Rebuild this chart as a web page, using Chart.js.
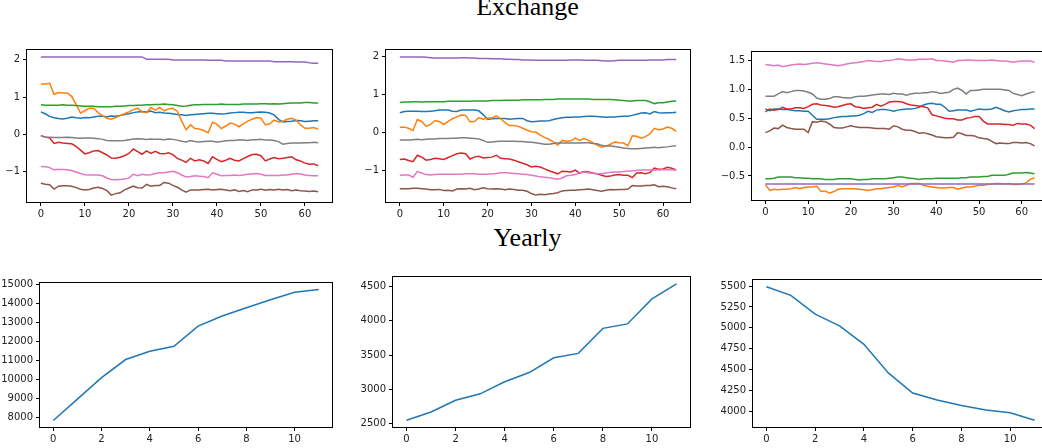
<!DOCTYPE html>
<html>
<head>
<meta charset="utf-8">
<script src="https://cdn.jsdelivr.net/npm/chart.js@4.4.0/dist/chart.umd.min.js"></script>
<style>
  body { margin: 0; width: 1042px; height: 448px; overflow: hidden; background: #fff; position: relative; }
  .title { position: absolute; left: 0; width: 1055px; text-align: center; font-family: "Liberation Serif", serif; font-size: 26px; line-height: 26px; color: #000; }
  canvas { position: absolute; }
</style>
</head>
<body>
<div class="title" style="top:-6px">Exchange</div>
<div class="title" style="top:225px">Yearly</div>
<canvas id="ex1"></canvas>
<canvas id="ex2"></canvas>
<canvas id="ex3"></canvas>
<canvas id="yr1"></canvas>
<canvas id="yr2"></canvas>
<canvas id="yr3"></canvas>
<script>
// COLORS (matplotlib tab10, C0..C7)
const colors = ["#1f77b4", "#ff7f0e", "#2ca02c", "#d62728", "#9467bd", "#8c564b", "#e377c2", "#7f7f7f"];

// TICKS
const exXTicks = [0, 10, 20, 30, 40, 50, 60];
const yrXTicks = [0, 2, 4, 6, 8, 10];
const ex1YTicks = [-1, 0, 1, 2];
const ex1YLabels = ["\u22121", "0", "1", "2"];
const ex2YTicks = [-1, 0, 1, 2];
const ex2YLabels = ["\u22121", "0", "1", "2"];
const ex3YTicks = [-0.5, 0, 0.5, 1, 1.5];
const ex3YLabels = ["\u22120.5", "0.0", "0.5", "1.0", "1.5"];
const yr1YTicks = [8000, 9000, 10000, 11000, 12000, 13000, 14000, 15000];
const yr1YLabels = ["8000", "9000", "10000", "11000", "12000", "13000", "14000", "15000"];
const yr2YTicks = [2500, 3000, 3500, 4000, 4500];
const yr2YLabels = ["2500", "3000", "3500", "4000", "4500"];
const yr3YTicks = [4000, 4250, 4500, 4750, 5000, 5250, 5500];
const yr3YLabels = ["4000", "4250", "4500", "4750", "5000", "5250", "5500"];

// EXCHANGE - PANEL 1
const ex1Blue = [0.60,0.55,0.48,0.44,0.42,0.41,0.43,0.46,0.44,0.43,
  0.45,0.44,0.46,0.48,0.48,0.47,0.49,0.48,0.50,0.53,
  0.55,0.58,0.60,0.61,0.60,0.62,0.58,0.59,0.57,0.56,
  0.55,0.53,0.52,0.50,0.52,0.53,0.54,0.55,0.56,0.56,
  0.55,0.54,0.55,0.57,0.58,0.59,0.59,0.58,0.58,0.59,
  0.60,0.59,0.57,0.52,0.40,0.33,0.34,0.35,0.37,0.36,
  0.34,0.35,0.36,0.36];
const ex1Orange = [1.35,1.35,1.37,1.07,1.12,1.11,1.11,1.02,0.80,0.57,
  0.63,0.70,0.70,0.58,0.50,0.43,0.40,0.45,0.50,0.55,
  0.60,0.66,0.70,0.60,0.58,0.72,0.65,0.72,0.63,0.68,
  0.70,0.62,0.35,0.12,0.25,0.15,0.14,0.10,0.04,0.32,
  0.27,0.15,0.22,0.30,0.27,0.20,0.28,0.35,0.40,0.45,
  0.43,0.25,0.28,0.38,0.33,0.35,0.40,0.43,0.38,0.25,
  0.16,0.16,0.18,0.13];
const ex1Green = [0.79,0.78,0.78,0.78,0.78,0.79,0.78,0.78,0.77,0.76,
  0.75,0.75,0.75,0.74,0.74,0.74,0.74,0.75,0.75,0.76,
  0.77,0.77,0.78,0.78,0.79,0.79,0.80,0.80,0.81,0.80,
  0.79,0.77,0.75,0.76,0.78,0.79,0.79,0.80,0.80,0.80,
  0.80,0.81,0.80,0.80,0.80,0.80,0.81,0.81,0.81,0.81,
  0.82,0.82,0.81,0.82,0.81,0.82,0.83,0.84,0.84,0.84,
  0.85,0.85,0.84,0.84];
const ex1Red = [-0.04,-0.08,-0.10,-0.25,-0.22,-0.24,-0.25,-0.26,-0.33,-0.43,
  -0.53,-0.50,-0.45,-0.44,-0.50,-0.56,-0.64,-0.65,-0.62,-0.58,
  -0.52,-0.40,-0.47,-0.54,-0.45,-0.52,-0.46,-0.52,-0.53,-0.50,
  -0.55,-0.65,-0.70,-0.76,-0.65,-0.72,-0.69,-0.72,-0.79,-0.61,
  -0.68,-0.74,-0.70,-0.65,-0.70,-0.72,-0.66,-0.60,-0.55,-0.54,
  -0.58,-0.72,-0.67,-0.63,-0.66,-0.65,-0.63,-0.61,-0.69,-0.72,
  -0.78,-0.81,-0.80,-0.85];
const ex1Purple = [2.08,2.08,2.08,2.08,2.08,2.08,2.08,2.08,2.08,2.08,
  2.08,2.08,2.08,2.08,2.08,2.08,2.08,2.08,2.08,2.08,
  2.08,2.08,2.08,2.08,2.02,2.02,2.02,2.02,2.02,2.02,
  2.00,2.00,2.00,2.00,2.00,2.00,2.00,2.00,1.99,1.99,
  1.99,1.99,1.97,1.97,1.97,1.97,1.97,1.97,1.97,1.97,
  1.97,1.97,1.97,1.95,1.95,1.95,1.95,1.95,1.94,1.94,
  1.94,1.92,1.91,1.91];
const ex1Brown = [-1.32,-1.35,-1.36,-1.48,-1.40,-1.39,-1.39,-1.40,-1.44,-1.48,
  -1.50,-1.49,-1.45,-1.43,-1.46,-1.52,-1.64,-1.60,-1.58,-1.50,
  -1.45,-1.40,-1.44,-1.45,-1.35,-1.40,-1.38,-1.38,-1.30,-1.32,
  -1.38,-1.43,-1.50,-1.56,-1.50,-1.50,-1.50,-1.49,-1.48,-1.50,
  -1.49,-1.48,-1.50,-1.52,-1.50,-1.54,-1.52,-1.55,-1.50,-1.50,
  -1.48,-1.51,-1.49,-1.50,-1.48,-1.50,-1.49,-1.52,-1.50,-1.52,
  -1.53,-1.54,-1.53,-1.55];
const ex1Pink = [-0.87,-0.88,-0.90,-0.96,-0.95,-0.95,-0.96,-0.98,-1.02,-1.06,
  -1.09,-1.10,-1.10,-1.10,-1.12,-1.18,-1.22,-1.23,-1.22,-1.21,
  -1.18,-1.08,-1.12,-1.08,-1.10,-1.09,-1.06,-1.04,-1.04,-1.02,
  -1.00,-1.04,-1.10,-1.15,-1.14,-1.12,-1.13,-1.14,-1.17,-1.04,
  -1.08,-1.12,-1.11,-1.11,-1.10,-1.11,-1.10,-1.08,-1.07,-1.06,
  -1.08,-1.11,-1.11,-1.11,-1.11,-1.10,-1.10,-1.08,-1.06,-1.07,
  -1.10,-1.11,-1.12,-1.12];
const ex1Gray = [-0.04,-0.08,-0.08,-0.09,-0.09,-0.09,-0.08,-0.09,-0.10,-0.11,
  -0.10,-0.10,-0.11,-0.12,-0.14,-0.17,-0.18,-0.18,-0.18,-0.17,
  -0.15,-0.13,-0.12,-0.13,-0.14,-0.13,-0.14,-0.14,-0.15,-0.13,
  -0.14,-0.16,-0.19,-0.21,-0.17,-0.20,-0.21,-0.20,-0.19,-0.19,
  -0.21,-0.20,-0.18,-0.17,-0.17,-0.15,-0.16,-0.17,-0.15,-0.15,
  -0.14,-0.16,-0.16,-0.17,-0.20,-0.27,-0.25,-0.24,-0.24,-0.24,
  -0.23,-0.23,-0.22,-0.23];

// EXCHANGE - PANEL 2
const ex2Blue = [0.51,0.54,0.55,0.55,0.55,0.54,0.54,0.55,0.56,0.58,
  0.58,0.58,0.55,0.54,0.58,0.58,0.58,0.58,0.56,0.46,
  0.33,0.35,0.36,0.36,0.36,0.34,0.35,0.36,0.36,0.30,
  0.27,0.28,0.29,0.29,0.30,0.33,0.36,0.38,0.39,0.39,
  0.40,0.40,0.41,0.42,0.42,0.41,0.40,0.39,0.40,0.40,
  0.41,0.42,0.42,0.44,0.47,0.50,0.51,0.48,0.54,0.51,
  0.50,0.51,0.51,0.52];
const ex2Orange = [0.13,0.13,0.10,0.04,0.33,0.28,0.15,0.20,0.30,0.28,
  0.20,0.28,0.35,0.40,0.45,0.44,0.27,0.28,0.38,0.34,
  0.37,0.37,0.43,0.35,0.25,0.17,0.17,0.15,0.10,0.05,
  0.01,0.00,-0.08,-0.14,-0.19,-0.26,-0.34,-0.22,-0.24,-0.23,
  -0.16,-0.22,-0.17,-0.22,-0.28,-0.34,-0.40,-0.37,-0.32,-0.26,
  -0.28,-0.29,-0.36,-0.10,-0.11,-0.16,-0.12,-0.05,0.10,0.06,
  0.08,0.13,0.10,0.02];
const ex2Green = [0.78,0.79,0.79,0.80,0.80,0.79,0.80,0.80,0.80,0.80,
  0.80,0.81,0.81,0.81,0.81,0.81,0.81,0.82,0.82,0.82,
  0.82,0.83,0.83,0.83,0.84,0.84,0.84,0.84,0.85,0.85,
  0.85,0.85,0.85,0.86,0.86,0.86,0.87,0.87,0.87,0.87,
  0.87,0.87,0.87,0.87,0.86,0.86,0.86,0.86,0.86,0.85,
  0.84,0.83,0.82,0.82,0.83,0.83,0.83,0.80,0.75,0.77,
  0.77,0.79,0.81,0.82];
const ex2Red = [-0.72,-0.71,-0.75,-0.78,-0.61,-0.66,-0.74,-0.72,-0.69,-0.70,
  -0.72,-0.67,-0.62,-0.57,-0.55,-0.57,-0.71,-0.66,-0.64,-0.68,
  -0.67,-0.66,-0.61,-0.69,-0.70,-0.71,-0.74,-0.78,-0.82,-0.86,
  -0.92,-0.90,-0.92,-0.97,-1.02,-1.06,-1.10,-1.03,-1.04,-1.05,
  -1.00,-1.08,-1.04,-1.05,-1.08,-1.10,-1.14,-1.17,-1.16,-1.13,
  -1.12,-1.14,-1.14,-1.20,-1.08,-1.07,-1.10,-1.07,-0.95,-0.98,
  -0.97,-0.93,-0.95,-1.00];
const ex2Purple = [1.98,1.98,1.98,1.98,1.98,1.98,1.97,1.96,1.95,1.95,
  1.95,1.95,1.95,1.95,1.96,1.96,1.95,1.95,1.94,1.94,
  1.94,1.93,1.93,1.93,1.92,1.92,1.91,1.91,1.90,1.90,
  1.90,1.89,1.89,1.89,1.89,1.89,1.89,1.89,1.89,1.90,
  1.90,1.90,1.89,1.89,1.89,1.89,1.88,1.87,1.87,1.88,
  1.89,1.89,1.89,1.89,1.89,1.89,1.89,1.90,1.90,1.90,
  1.90,1.91,1.91,1.91];
const ex2Brown = [-1.49,-1.49,-1.49,-1.48,-1.48,-1.49,-1.50,-1.52,-1.52,-1.51,
  -1.54,-1.53,-1.55,-1.50,-1.49,-1.50,-1.48,-1.52,-1.50,-1.47,
  -1.49,-1.50,-1.49,-1.50,-1.52,-1.50,-1.51,-1.53,-1.53,-1.56,
  -1.62,-1.66,-1.64,-1.65,-1.63,-1.62,-1.60,-1.55,-1.54,-1.53,
  -1.53,-1.52,-1.51,-1.50,-1.52,-1.54,-1.56,-1.53,-1.51,-1.52,
  -1.51,-1.51,-1.50,-1.41,-1.42,-1.42,-1.41,-1.41,-1.39,-1.44,
  -1.43,-1.44,-1.47,-1.49];
const ex2Pink = [-1.14,-1.13,-1.13,-1.19,-1.04,-1.08,-1.12,-1.13,-1.12,-1.11,
  -1.11,-1.11,-1.11,-1.11,-1.11,-1.10,-1.10,-1.10,-1.11,-1.11,
  -1.11,-1.10,-1.09,-1.07,-1.07,-1.08,-1.09,-1.10,-1.11,-1.12,
  -1.14,-1.16,-1.18,-1.19,-1.20,-1.22,-1.24,-1.21,-1.15,-1.14,
  -1.12,-1.08,-1.05,-1.07,-1.09,-1.10,-1.10,-1.08,-1.06,-1.05,
  -1.05,-1.04,-1.03,-1.02,-1.01,-1.00,-1.00,-1.00,-1.00,-1.00,
  -0.99,-0.99,-1.00,-1.00];
const ex2Gray = [-0.21,-0.21,-0.21,-0.20,-0.19,-0.20,-0.19,-0.18,-0.18,-0.17,
  -0.17,-0.17,-0.16,-0.16,-0.15,-0.15,-0.16,-0.17,-0.18,-0.22,
  -0.27,-0.26,-0.25,-0.24,-0.24,-0.24,-0.24,-0.25,-0.25,-0.26,
  -0.27,-0.28,-0.30,-0.32,-0.32,-0.30,-0.29,-0.29,-0.29,-0.29,
  -0.29,-0.29,-0.28,-0.28,-0.30,-0.31,-0.35,-0.37,-0.37,-0.38,
  -0.40,-0.42,-0.43,-0.44,-0.44,-0.43,-0.42,-0.41,-0.40,-0.41,
  -0.40,-0.39,-0.37,-0.36];

// EXCHANGE - PANEL 3
const ex3Blue = [0.66,0.63,0.66,0.66,0.65,0.65,0.64,0.63,0.63,0.62,
  0.62,0.55,0.48,0.48,0.48,0.49,0.51,0.52,0.53,0.53,
  0.54,0.54,0.55,0.58,0.62,0.60,0.64,0.65,0.65,0.64,
  0.62,0.64,0.65,0.66,0.66,0.67,0.69,0.73,0.75,0.76,
  0.74,0.74,0.69,0.62,0.63,0.64,0.64,0.64,0.62,0.64,
  0.66,0.65,0.65,0.66,0.69,0.66,0.63,0.61,0.63,0.64,
  0.65,0.65,0.66,0.66];
const ex3Orange = [-0.65,-0.75,-0.73,-0.74,-0.73,-0.73,-0.72,-0.70,-0.72,-0.70,
  -0.69,-0.69,-0.68,-0.77,-0.76,-0.80,-0.77,-0.73,-0.72,-0.72,
  -0.72,-0.72,-0.73,-0.74,-0.75,-0.74,-0.72,-0.72,-0.71,-0.70,
  -0.69,-0.66,-0.69,-0.66,-0.63,-0.63,-0.63,-0.66,-0.68,-0.69,
  -0.70,-0.71,-0.71,-0.70,-0.70,-0.73,-0.71,-0.69,-0.69,-0.68,
  -0.66,-0.66,-0.65,-0.64,-0.63,-0.63,-0.64,-0.63,-0.65,-0.65,
  -0.64,-0.62,-0.56,-0.53];
const ex3Green = [-0.55,-0.55,-0.54,-0.52,-0.52,-0.52,-0.52,-0.53,-0.53,-0.54,
  -0.54,-0.55,-0.55,-0.55,-0.56,-0.56,-0.56,-0.55,-0.55,-0.55,
  -0.55,-0.56,-0.57,-0.56,-0.56,-0.55,-0.55,-0.55,-0.55,-0.54,
  -0.53,-0.52,-0.52,-0.53,-0.54,-0.55,-0.56,-0.55,-0.55,-0.55,
  -0.54,-0.54,-0.54,-0.54,-0.54,-0.54,-0.53,-0.53,-0.52,-0.52,
  -0.52,-0.51,-0.51,-0.49,-0.49,-0.49,-0.49,-0.47,-0.45,-0.45,
  -0.45,-0.44,-0.45,-0.46];
const ex3Red = [0.61,0.66,0.64,0.65,0.69,0.66,0.66,0.68,0.68,0.67,
  0.70,0.74,0.75,0.73,0.72,0.71,0.69,0.70,0.72,0.74,
  0.75,0.70,0.69,0.67,0.68,0.69,0.74,0.71,0.74,0.78,
  0.79,0.79,0.78,0.75,0.73,0.72,0.71,0.70,0.68,0.56,
  0.54,0.52,0.50,0.49,0.49,0.47,0.47,0.50,0.51,0.53,
  0.53,0.45,0.40,0.40,0.40,0.40,0.39,0.39,0.38,0.41,
  0.40,0.40,0.38,0.32];
const ex3Purple = [-0.64,-0.64,-0.64,-0.64,-0.64,-0.64,-0.64,-0.64,-0.64,-0.64,
  -0.64,-0.64,-0.64,-0.64,-0.64,-0.64,-0.64,-0.64,-0.64,-0.64,
  -0.64,-0.64,-0.64,-0.64,-0.64,-0.64,-0.64,-0.64,-0.64,-0.64,
  -0.64,-0.64,-0.64,-0.64,-0.64,-0.64,-0.64,-0.64,-0.64,-0.64,
  -0.64,-0.64,-0.64,-0.64,-0.64,-0.64,-0.64,-0.64,-0.64,-0.64,
  -0.64,-0.64,-0.64,-0.64,-0.64,-0.64,-0.64,-0.64,-0.64,-0.64,
  -0.64,-0.64,-0.64,-0.64];
const ex3Brown = [0.25,0.28,0.33,0.32,0.38,0.34,0.32,0.31,0.31,0.31,
  0.25,0.44,0.43,0.45,0.44,0.40,0.34,0.33,0.33,0.35,
  0.37,0.35,0.34,0.34,0.34,0.33,0.32,0.32,0.32,0.31,
  0.37,0.35,0.31,0.29,0.29,0.27,0.24,0.25,0.23,0.21,
  0.18,0.17,0.16,0.16,0.17,0.25,0.23,0.20,0.20,0.19,
  0.16,0.15,0.14,0.10,0.06,0.07,0.06,0.06,0.08,0.08,
  0.07,0.08,0.06,0.02];
const ex3Pink = [1.43,1.42,1.41,1.42,1.39,1.41,1.42,1.43,1.44,1.43,
  1.44,1.45,1.46,1.45,1.44,1.43,1.42,1.41,1.42,1.44,
  1.45,1.46,1.47,1.48,1.50,1.49,1.48,1.48,1.50,1.50,
  1.51,1.53,1.52,1.51,1.51,1.51,1.52,1.52,1.52,1.53,
  1.50,1.50,1.49,1.48,1.47,1.50,1.50,1.51,1.51,1.50,
  1.50,1.50,1.50,1.51,1.50,1.49,1.49,1.48,1.47,1.48,
  1.49,1.49,1.49,1.47];
const ex3Gray = [0.88,0.88,0.88,0.92,0.96,0.94,0.96,0.98,0.98,0.97,
  0.95,0.92,0.85,0.83,0.83,0.84,0.87,0.87,0.86,0.85,
  0.85,0.87,0.88,0.88,0.89,0.90,0.91,0.92,0.92,0.91,
  0.93,0.92,0.92,0.90,0.92,0.93,0.93,0.94,0.94,0.96,
  0.95,0.93,0.94,0.95,1.00,1.02,0.98,0.92,0.98,0.98,
  0.99,1.00,1.00,1.00,1.00,1.00,0.99,0.98,0.93,0.91,
  0.89,0.92,0.94,0.96];

// YEARLY
const yr1Values = [7820, 8950, 10080, 11040, 11480, 11740, 12810, 13340, 13780, 14200, 14600, 14740];
const yr2Values = [2550, 2670, 2840, 2935, 3110, 3245, 3460, 3525, 3890, 3955, 4320, 4540];
const yr3Values = [5492, 5389, 5164, 5025, 4804, 4463, 4222, 4139, 4075, 4020, 3988, 3897];

// axes frame on all four sides (matplotlib spines)
const framePlugin = {
  id: "frame",
  afterDraw(chart) {
    const a = chart.chartArea;
    const ctx = chart.ctx;
    ctx.save();
    ctx.strokeStyle = "#000";
    ctx.lineWidth = 1;
    ctx.strokeRect(Math.round(a.left) - 0.5, Math.round(a.top) - 0.5,
      Math.round(a.right - a.left) + 1, Math.round(a.bottom - a.top) + 1);
    ctx.restore();
  },
};

const tickFont = { family: "DejaVu Sans", size: 10 };

// RENDER ONE PANEL
// box = [left, top, right, bottom] of the plot area in page pixels
function renderPanel(id, box, seriesList, seriesColors, xTicks, yTicks, yLabels) {
  const yw = Math.min(box[0], 46);
  const padTop = 10, padRight = 10, xh = 22;
  const canvas = document.getElementById(id);
  canvas.width = yw + (box[2] - box[0]) + padRight;
  canvas.height = padTop + (box[3] - box[1]) + xh;
  canvas.style.left = box[0] - yw + "px";
  canvas.style.top = box[1] - padTop + "px";

  // matplotlib style 5% margins
  const all = seriesList.flat();
  const lo = Math.min(...all), hi = Math.max(...all);
  const my = (hi - lo) * 0.05;
  const n = seriesList[0].length - 1;

  const datasets = seriesList.map((vals, k) => ({
    data: vals.map((v, i) => ({ x: i, y: v })),
    borderColor: seriesColors[k],
    borderWidth: 1.5,
    pointRadius: 0,
    tension: 0,
    fill: false,
    order: seriesList.length - k,
  }));

  new Chart(canvas, {
    type: "line",
    data: { datasets },
    options: {
      responsive: false,
      animation: false,
      devicePixelRatio: 1,
      layout: { padding: { top: padTop, right: padRight, left: 0, bottom: 0 } },
      plugins: { legend: { display: false }, tooltip: { enabled: false } },
      scales: {
        x: {
          type: "linear",
          min: -0.05 * n,
          max: n * 1.05,
          afterBuildTicks: (axis) => { axis.ticks = xTicks.map((v) => ({ value: v })); },
          afterFit: (axis) => { axis.height = xh; },
          grid: { drawOnChartArea: false, tickLength: 4, color: "#000" },
          border: { display: false },
          ticks: { font: tickFont, color: "#222", padding: 2, maxRotation: 0, autoSkip: false,
            callback: (v) => String(v) },
        },
        y: {
          type: "linear",
          min: lo - my,
          max: hi + my,
          afterBuildTicks: (axis) => { axis.ticks = yTicks.map((v) => ({ value: v })); },
          afterFit: (axis) => { axis.width = yw; },
          grid: { drawOnChartArea: false, tickLength: 4, color: "#000" },
          border: { display: false },
          ticks: { font: tickFont, color: "#222", padding: 3, autoSkip: false,
            callback: (v) => yLabels[yTicks.indexOf(v)] },
        },
      },
    },
    plugins: [framePlugin],
  });
}

renderPanel("ex1", [27, 50, 332, 202],
  [ex1Blue, ex1Orange, ex1Green, ex1Red, ex1Purple, ex1Brown, ex1Pink, ex1Gray],
  colors, exXTicks, ex1YTicks, ex1YLabels);
renderPanel("ex2", [386, 50, 690, 202],
  [ex2Blue, ex2Orange, ex2Green, ex2Red, ex2Purple, ex2Brown, ex2Pink, ex2Gray],
  colors, exXTicks, ex2YTicks, ex2YLabels);
renderPanel("ex3", [752, 52, 1048, 200],
  [ex3Blue, ex3Orange, ex3Green, ex3Red, ex3Purple, ex3Brown, ex3Pink, ex3Gray],
  colors, exXTicks, ex3YTicks, ex3YLabels);
renderPanel("yr1", [40, 283, 332, 427], [yr1Values], colors, yrXTicks, yr1YTicks, yr1YLabels);
renderPanel("yr2", [393, 277, 690, 427], [yr2Values], colors, yrXTicks, yr2YTicks, yr2YLabels);
renderPanel("yr3", [753, 280, 1048, 427], [yr3Values], colors, yrXTicks, yr3YTicks, yr3YLabels);
</script>
</body>
</html>
